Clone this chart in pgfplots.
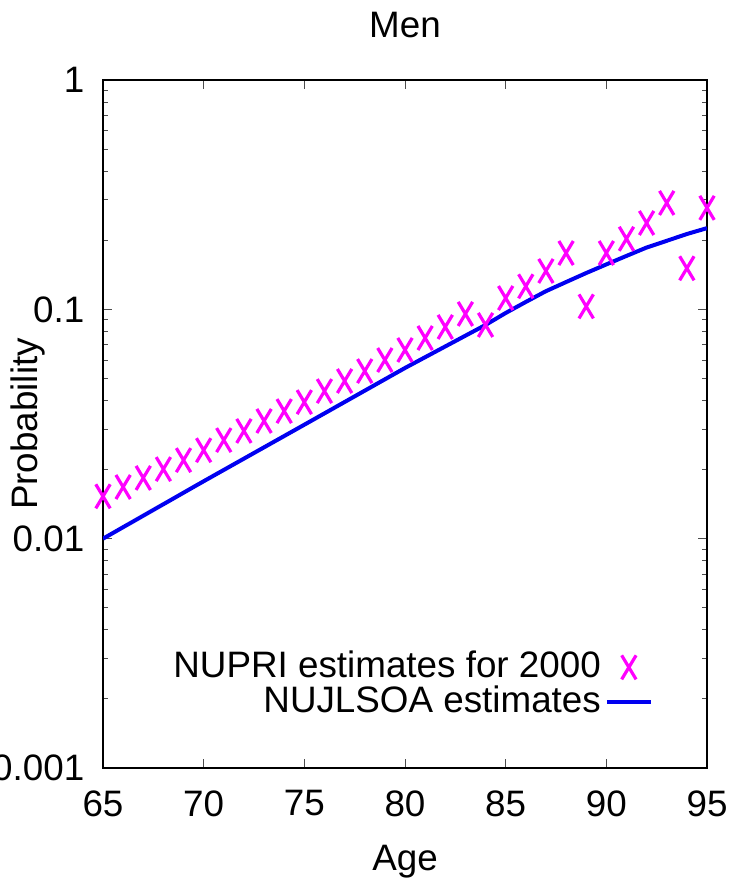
\documentclass[border=0pt]{standalone}
\usepackage{pgfplots}
\pgfplotsset{compat=1.18}
\usepackage{fontspec}
\setmainfont{Liberation Sans}
\definecolor{mymag}{RGB}{255,0,255}
\definecolor{myblue}{RGB}{0,0,240}
\newcommand{\fsz}{\fontsize{18.4}{21}\selectfont}
\begin{document}
\fsz
\begin{tikzpicture}
\begin{axis}[
  scale only axis,
  width=302pt, height=344pt,
  ymode=log,
  xmin=65, xmax=95, ymin=0.001, ymax=1,
  xtick={65,70,75,80,85,90,95},
  xticklabels={65,70,75,80,85,90,95},
  ytick={0.001,0.01,0.1,1},
  yticklabels={0.001,0.01,0.1,1},
  tick align=inside,
  major tick length=4.5pt,
  minor tick length=2.5pt,
  tick style={line width=0.5pt, color=black!70},
  axis line style={line width=1pt},
  tick label style={font=\fsz},
  xticklabel style={yshift=-5pt},
  yticklabel style={xshift=-3pt},
  label style={font=\fsz},
  title={Men},
  title style={font=\fsz, at={(axis description cs:0.5,1)}, anchor=center, yshift=21.5pt},
  xlabel={Age},
  xlabel style={at={(axis description cs:0.5,0)}, anchor=center, yshift=-47pt},
  ylabel={Probability},
  ylabel style={at={(axis description cs:0,0.5)}, anchor=center, rotate=0, yshift=37.5pt},
  legend style={draw=none, fill=none, font=\fsz,
    at={(rel axis cs:0.921,0.061)}, anchor=south east,
    row sep=-3pt},
  legend cell align=right,
  legend plot pos=right,
  legend image code/.code={\draw[mark repeat=2,mark phase=2,#1] plot coordinates {(0pt,0pt) (11pt,0pt) (22pt,0pt)};},
]
\addplot[only marks, color=mymag, mark=x,
  mark options={xscale=0.6, line width=1.6pt}, mark size=8.5pt] coordinates {
(65,0.0153) (66,0.0168) (67,0.0184) (68,0.0201) (69,0.0220) (70,0.0243)
(71,0.0269) (72,0.0295) (73,0.0326) (74,0.0360) (75,0.0394) (76,0.0440)
(77,0.0487) (78,0.0538) (79,0.0601) (80,0.0665) (81,0.0750) (82,0.0838)
(83,0.0955) (84,0.0855) (85,0.112) (86,0.126) (87,0.147) (88,0.176)
(89,0.103) (90,0.176) (91,0.203) (92,0.238) (93,0.291) (94,0.151) (95,0.277)
};
\addlegendentry{NUPRI estimates for 2000}
\addplot[color=myblue, line width=2pt, no marks] coordinates {
(65,0.0100) (70,0.0178) (75,0.0314) (80,0.0555) (82,0.0689) (84,0.0855)
(85,0.0964) (86,0.1077) (87,0.120) (88,0.1315) (89,0.144) (90,0.157)
(91,0.171) (92,0.186) (93,0.199) (94,0.213) (95,0.226)
};
\addlegendentry{NUJLSOA estimates}
\coordinate (ll) at (rel axis cs:0,0);
\coordinate (ur) at (rel axis cs:1,1);
\end{axis}
\pgfresetboundingbox
\useasboundingbox ([shift={(-51.5pt,-56pt)}]ll) rectangle ([shift={(14pt,40pt)}]ur);
\end{tikzpicture}
\end{document}
